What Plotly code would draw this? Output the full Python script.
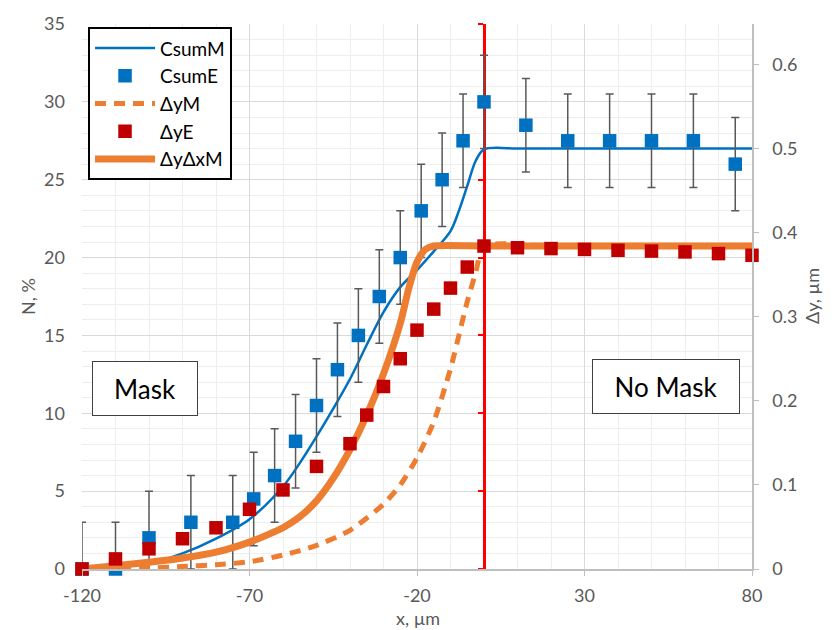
import plotly.graph_objects as go

# ---------------- data ----------------
# CsumM: model curve, left axis (N, %)
csumM_x = [-120, -110, -100, -90, -80, -70, -60, -55, -50, -45, -40, -35, -30, -25, -20, -15, -10, -7.5, -5, -2.5, 0, 10, 20, 40, 60, 80]
csumM_y = [0.0, 0.12, 0.36, 1.0, 1.95, 3.2, 5.3, 6.8, 8.5, 10.3, 12.2, 14.4, 16.5, 18.1, 19.2, 20.4, 21.7, 23.0, 24.6, 26.2, 26.95, 27.0, 27.0, 27.0, 27.0, 27.0]

# CsumE: measured points with error bars, left axis (N, %)
csumE_x = [-120, -110, -100, -87.5, -75, -68.75, -62.5, -56.25, -50, -43.75, -37.5, -31.25, -25, -18.75, -12.5, -6.25, 0, 12.5, 25, 37.5, 50, 62.5, 75]
csumE_y = [0, 0, 2, 3, 3, 4.5, 6, 8.2, 10.5, 12.8, 15, 17.5, 20, 23, 25, 27.5, 30, 28.5, 27.5, 27.5, 27.5, 27.5, 26]
csumE_err = [3, 3, 3, 3, 3, 3, 3, 3, 3, 3, 3, 3, 3, 3, 3, 3, 3, 3, 3, 3, 3, 3, 3]

# ΔyM: model curve (dashed), right axis (Δy, µm)
dyM_x = [-120, -110, -100, -90, -80, -70, -60, -50, -40, -30, -25, -20, -15, -10, -5, -2.5, 0, 20, 40, 60, 80]
dyM_y = [0.0, 0.0, 0.001, 0.003, 0.005, 0.0086, 0.0165, 0.028, 0.046, 0.077, 0.100, 0.132, 0.175, 0.238, 0.318, 0.352, 0.384, 0.384, 0.384, 0.384, 0.384]

# ΔyE: measured points, right axis (Δy, µm)
dyE_x = [-120, -110, -100, -90, -80, -70, -60, -50, -40, -35, -30, -25, -20, -15, -10, -5, 0, 10, 20, 30, 40, 50, 60, 70, 80]
dyE_y = [0.0, 0.012, 0.024, 0.036, 0.049, 0.071, 0.094, 0.122, 0.149, 0.183, 0.217, 0.250, 0.284, 0.309, 0.334, 0.359, 0.384, 0.382, 0.381, 0.380, 0.379, 0.378, 0.377, 0.375, 0.373]

# ΔyΔxM: model curve (thick), right axis (Δy, µm)
dydxM_x = [-120, -110, -100, -90, -80, -70, -65, -60, -55, -50, -45, -40, -35, -30, -25, -22.5, -20, -17.5, -15, 0, 20, 40, 60, 80]
dydxM_y = [0.0, 0.004, 0.008, 0.013, 0.020, 0.032, 0.040, 0.049, 0.062, 0.081, 0.108, 0.142, 0.183, 0.232, 0.292, 0.333, 0.365, 0.380, 0.384, 0.384, 0.384, 0.384, 0.384, 0.384]

x_ticks = [-120, -70, -20, 30, 80]
x_tick_labels = ["-120", "-70", "-20", "30", "80"]

# ---------------- styles ----------------
BLUE = "#0070C0"
RED = "#C00000"
ORANGE = "#ED7D31"
GRAY_TXT = "#595959"
FONT = "Lato"

fig = go.Figure()

fig.add_trace(go.Scatter(
    x=csumM_x, y=csumM_y, name="CsumM", mode="lines",
    line=dict(color=BLUE, width=2.5, shape="spline", smoothing=0.9),
    yaxis="y", legendrank=1))

fig.add_trace(go.Scatter(
    x=csumE_x, y=csumE_y, name="CsumE", mode="markers",
    marker=dict(symbol="square", size=13.5, color=BLUE),
    error_y=dict(type="data", array=csumE_err, visible=True,
                 color=GRAY_TXT, thickness=1.5, width=4),
    cliponaxis=False, yaxis="y", legendrank=2))

fig.add_trace(go.Scatter(
    x=dydxM_x, y=dydxM_y, name="ΔyΔxM", mode="lines",
    line=dict(color=ORANGE, width=7, shape="spline", smoothing=0.7),
    yaxis="y2", legendrank=5))

fig.add_trace(go.Scatter(
    x=dyM_x, y=dyM_y, name="ΔyM", mode="lines",
    line=dict(color=ORANGE, width=5, dash="11px,8px", shape="spline", smoothing=0.6),
    yaxis="y2", legendrank=3))

fig.add_trace(go.Scatter(
    x=dyE_x, y=dyE_y, name="ΔyE", mode="markers",
    marker=dict(symbol="square", size=13.5, color=RED),
    cliponaxis=False, yaxis="y2", legendrank=4))

# invisible carrier so the red boundary axis at x = 0 is drawn
fig.add_trace(go.Scatter(
    x=[0], y=[0], mode="markers", marker=dict(opacity=0),
    showlegend=False, hoverinfo="skip", yaxis="y3"))

fig.update_layout(
    width=832, height=630,
    margin=dict(l=82, r=80, t=18, b=61),
    paper_bgcolor="white", plot_bgcolor="white",
    font=dict(family=FONT, size=18, color=GRAY_TXT),
    showlegend=True,
    legend=dict(
        x=0.009, y=0.994, xanchor="left", yanchor="top",
        bgcolor="white", bordercolor="black", borderwidth=2,
        font=dict(family=FONT, size=19, color="black"),
        itemwidth=60, tracegroupgap=0),
    xaxis=dict(
        range=[-120, 80], tickmode="array", tickvals=x_ticks, ticktext=x_tick_labels,
        showgrid=True, gridcolor="#D9D9D9", gridwidth=1,
        minor=dict(dtick=10, tick0=-120, showgrid=True, gridcolor="#EEEEEE", gridwidth=1),
        showline=True, linecolor="#BFBFBF", linewidth=1.5,
        ticks="outside", ticklen=5, tickcolor="#BFBFBF",
        ticklabelstandoff=5, zeroline=False,
        tickfont=dict(size=18, color=GRAY_TXT)),
    yaxis=dict(
        range=[0, 35], dtick=5, tick0=0,
        showgrid=True, gridcolor="#D9D9D9", gridwidth=1,
        minor=dict(dtick=1, showgrid=True, gridcolor="#EEEEEE", gridwidth=1),
        showline=False, ticks="", zeroline=False,
        ticklabelstandoff=16,
        tickfont=dict(size=18, color=GRAY_TXT)),
    yaxis2=dict(
        range=[0, 0.648], dtick=0.1, tick0=0, overlaying="y", side="right",
        showgrid=False, zeroline=False,
        showline=True, linecolor="#BFBFBF", linewidth=1.5,
        ticks="outside", ticklen=5, tickcolor="#BFBFBF",
        ticklabelstandoff=10,
        tickfont=dict(size=18, color=GRAY_TXT)),
    yaxis3=dict(
        range=[0, 35], dtick=5, tick0=0, overlaying="y", anchor="free",
        position=0.6, side="left", layer="below traces",
        showgrid=False, zeroline=False, showticklabels=False,
        showline=True, linecolor="#FF0000", linewidth=2.5,
        ticks="outside", ticklen=5, tickcolor="#FF0000", tickwidth=2),
)

annotations = [
    dict(text="N, %", xref="paper", yref="paper", x=-0.0806, y=0.501,
         xanchor="center", yanchor="middle",
         textangle=-90, showarrow=False, font=dict(size=18, color=GRAY_TXT)),
    dict(text="Δy, µm", xref="paper", yref="paper", x=1.0896, y=0.501,
         xanchor="center", yanchor="middle",
         textangle=-90, showarrow=False, font=dict(size=18, color=GRAY_TXT)),
    dict(text="x, µm", xref="paper", yref="paper", x=0.5015, y=-0.09,
         xanchor="center", yanchor="middle",
         showarrow=False, font=dict(size=18, color=GRAY_TXT)),
    dict(text="Mask", xref="x", yref="y", x=-101.25, y=11.6,
         xanchor="center", yanchor="middle",
         showarrow=False, width=104, height=53, borderpad=0,
         bordercolor="#404040", borderwidth=1, bgcolor="white",
         font=dict(size=26, color="black")),
    dict(text="No Mask", xref="x", yref="y", x=54.25, y=11.7,
         xanchor="center", yanchor="middle",
         showarrow=False, width=146, height=53, borderpad=0,
         bordercolor="#404040", borderwidth=1, bgcolor="white",
         font=dict(size=26, color="black")),
]
fig.update_layout(annotations=annotations)

fig.write_html("out.html")
